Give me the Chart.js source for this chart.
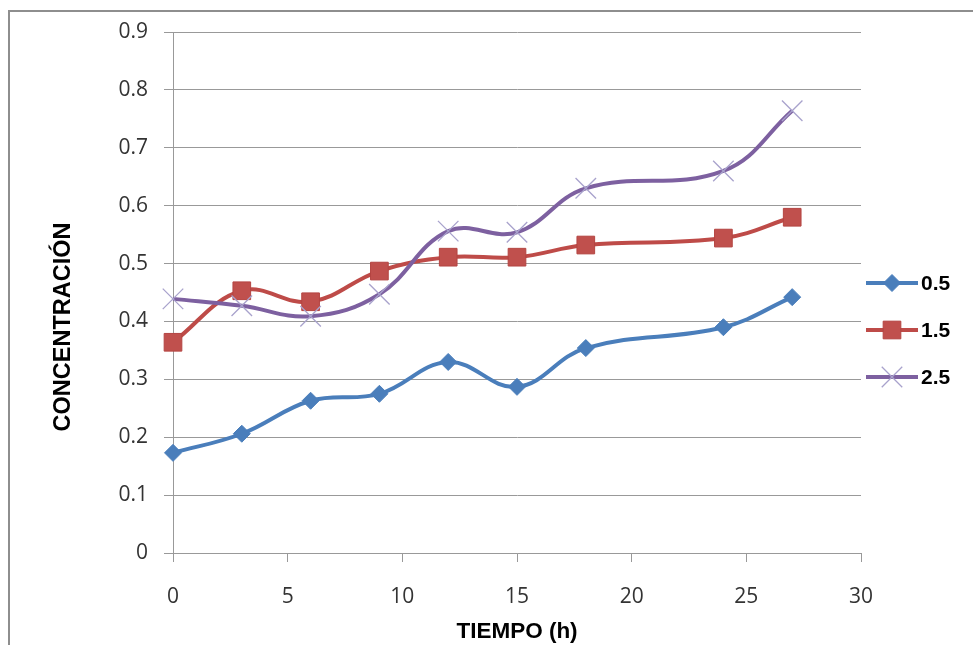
<!DOCTYPE html>
<html>
<head>
<meta charset="utf-8">
<script src="https://cdn.jsdelivr.net/npm/chart.js@4/dist/chart.umd.min.js"></script>
<style>
    html, body { margin: 0; padding: 0; background: #fff; }
    #wrap { position: relative; width: 973px; height: 645px; overflow: hidden; }
    #frame { position: absolute; left: 8px; top: 10px; width: 1000px; height: 700px;
             border-left: 2px solid #8e8e8e; border-top: 2px solid #8e8e8e; }
    canvas { position: absolute; left: 0; top: 0; }
</style>
</head>
<body>
<div id="wrap">
    <div id="frame"></div>
    <canvas id="chart" width="973" height="645"></canvas>
</div>
<script>
    // Data
    var tiempo = [0, 3, 6, 9, 12, 15, 18, 24, 27];
    var serie05 = [0.173, 0.206, 0.263, 0.275, 0.330, 0.287, 0.354, 0.390, 0.442];
    var serie15 = [0.364, 0.453, 0.434, 0.487, 0.511, 0.511, 0.532, 0.544, 0.580];
    var serie25 = [0.439, 0.427, 0.409, 0.447, 0.556, 0.554, 0.630, 0.660, 0.764];
    var seriesNames = ['0.5', '1.5', '2.5'];
    var xTicks = [0, 5, 10, 15, 20, 25, 30];
    var yTicks = [0, 0.1, 0.2, 0.3, 0.4, 0.5, 0.6, 0.7, 0.8, 0.9];
    var xTitle = 'TIEMPO (h)';
    var yTitle = 'CONCENTRACIÓN';

    function toPoints(values) {
        return tiempo.map(function (t, i) { return {x: t, y: values[i]}; });
    }

    var gridColor = '#999999';
    var tickFont = {family: '"Open Sans"', size: 21};

    // Y title, Excel puts it a bit lower than the middle of the plot
    var yTitlePlugin = {
        id: 'yTitle',
        afterDraw: function (chart) {
            var ctx = chart.ctx;
            ctx.save();
            ctx.translate(64, chart.chartArea.top + 295);
            ctx.rotate(-Math.PI / 2);
            ctx.fillStyle = '#000';
            ctx.font = 'bold 23.5px "Liberation Sans"';
            ctx.textAlign = 'center';
            ctx.textBaseline = 'middle';
            ctx.fillText(yTitle, 0, 0);
            ctx.restore();
        }
    };

    // Legend at the right: line + marker + label
    var sideLegend = {
        id: 'sideLegend',
        afterDraw: function (chart) {
            var ctx = chart.ctx;
            var x0 = chart.chartArea.right + 5;
            chart.data.datasets.forEach(function (ds, i) {
                var y = chart.chartArea.top + 251 + i * 47;
                ctx.save();
                ctx.strokeStyle = ds.borderColor;
                ctx.lineWidth = ds.borderWidth;
                ctx.beginPath();
                ctx.moveTo(x0, y);
                ctx.lineTo(x0 + 52, y);
                ctx.stroke();
                ctx.fillStyle = ds.pointBackgroundColor;
                ctx.strokeStyle = ds.pointBorderColor;
                ctx.lineWidth = ds.pointBorderWidth;
                Chart.helpers.drawPoint(ctx, {
                    pointStyle: ds.pointStyle,
                    radius: ds.pointRadius,
                    rotation: 0,
                    borderWidth: ds.pointBorderWidth
                }, x0 + 26, y);
                ctx.fillStyle = '#000';
                ctx.font = 'bold 21px "Liberation Sans"';
                ctx.textBaseline = 'middle';
                ctx.textAlign = 'left';
                ctx.fillText(ds.label, x0 + 55, y + 1);
                ctx.restore();
            });
        }
    };

    var ctx = document.getElementById('chart').getContext('2d');
    var myChart = new Chart(ctx, {
        type: 'line',
        data: {
            datasets: [{
                    label: seriesNames[0],
                    data: toPoints(serie05),
                    borderColor: '#4a7ebb',
                    borderWidth: 4,
                    pointStyle: 'rectRot',
                    pointRadius: 8.5,
                    pointBackgroundColor: '#4a7ebb',
                    pointBorderColor: '#4a7ebb',
                    pointBorderWidth: 1,
                    order: 3
                },
                {
                    label: seriesNames[1],
                    data: toPoints(serie15),
                    borderColor: '#be4b48',
                    borderWidth: 4,
                    pointStyle: 'rect',
                    pointRadius: 12.5,
                    pointBackgroundColor: '#c0504d',
                    pointBorderColor: '#b44542',
                    pointBorderWidth: 1,
                    order: 2
                },
                {
                    label: seriesNames[2],
                    data: toPoints(serie25),
                    borderColor: '#7d60a0',
                    borderWidth: 4,
                    pointStyle: 'crossRot',
                    pointRadius: 14.5,
                    pointBackgroundColor: '#a8a2cc',
                    pointBorderColor: '#a8a2cc',
                    pointBorderWidth: 1.3,
                    order: 1
                }
            ]
        },
        options: {
            responsive: false,
            animation: false,
            clip: false,
            elements: {
                line: {tension: 0.4, fill: false}
            },
            layout: {
                padding: {top: 32, right: 112, left: 0, bottom: 0}
            },
            plugins: {
                legend: {display: false},
                tooltip: {enabled: false}
            },
            scales: {
                x: {
                    type: 'linear',
                    min: 0,
                    max: 30,
                    afterBuildTicks: function (s) {
                        s.ticks = xTicks.map(function (v) { return {value: v}; });
                    },
                    afterFit: function (s) { s.height = 92; },
                    grid: {drawOnChartArea: false, color: gridColor, tickLength: 9},
                    border: {display: true, color: gridColor, width: 1},
                    ticks: {color: '#333', font: tickFont, padding: 22, maxRotation: 0},
                    title: {
                        display: true,
                        text: xTitle,
                        color: '#000',
                        font: {family: '"Liberation Sans"', size: 22.5, weight: 'bold'},
                        padding: {top: 0, bottom: 0}
                    }
                },
                y: {
                    min: 0,
                    max: 0.9,
                    afterBuildTicks: function (s) {
                        s.ticks = yTicks.map(function (v) { return {value: v}; });
                    },
                    afterFit: function (s) { s.width = 173; },
                    grid: {color: gridColor, tickLength: 9},
                    border: {display: true, color: gridColor, width: 1},
                    ticks: {
                        color: '#333',
                        font: tickFont,
                        padding: 16,
                        callback: function (v) { return v === 0 ? '0' : v.toFixed(1); }
                    }
                }
            }
        },
        plugins: [yTitlePlugin, sideLegend]
    });
</script>
</body>
</html>
